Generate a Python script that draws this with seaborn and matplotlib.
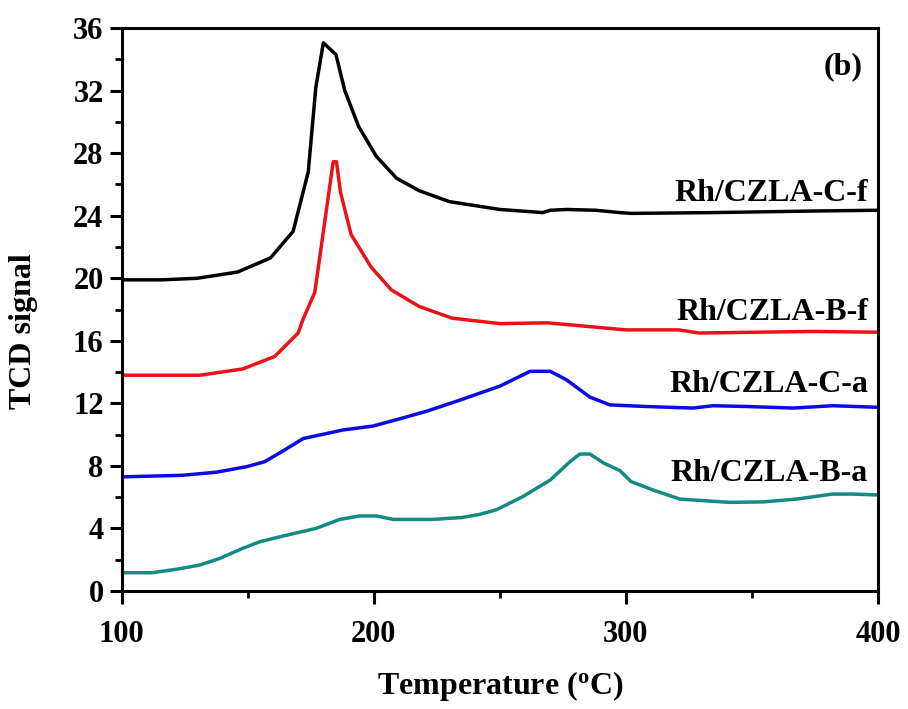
import numpy as np
import pandas as pd
import matplotlib
matplotlib.use("Agg")
import matplotlib.pyplot as plt
from matplotlib.ticker import MultipleLocator
import seaborn as sns

# ---- data ----
cf_x = [100, 116, 130, 146, 159, 168, 174, 177, 180, 185, 188.5, 194, 201, 209, 218, 230, 250,
        267, 270, 276.5, 288, 297.6, 302, 334.5, 374, 400]
cf_y = [19.9, 19.9, 20.0, 20.4, 21.3, 23.0, 26.8, 32.2, 35.06, 34.3, 32.0, 29.7, 27.8, 26.4, 25.6, 24.9, 24.4,
        24.2, 24.35, 24.4, 24.35, 24.2, 24.15, 24.2, 24.3, 24.35]

bf_x = [100, 131, 148, 160.7, 170, 172, 176.6, 183.9, 185.2, 186.8, 191, 199, 207, 218, 231, 250,
        269, 300, 321, 329, 374, 400]
bf_y = [13.8, 13.8, 14.2, 15.0, 16.5, 17.4, 19.1, 27.45, 27.45, 25.5, 22.8, 20.7, 19.25, 18.2, 17.45, 17.1,
        17.15, 16.7, 16.7, 16.5, 16.6, 16.55]

ca_x = [100, 124, 137.6, 149.5, 156.7, 163.4, 172, 187.8, 199.7, 210, 221, 234, 250, 262, 270, 276.5,
        285.7, 293.7, 308, 326.6, 334.5, 348, 366.4, 382, 400]
ca_y = [7.3, 7.4, 7.6, 7.95, 8.27, 8.9, 9.75, 10.3, 10.55, 11.0, 11.5, 12.2, 13.1, 14.05, 14.05, 13.5,
        12.4, 11.9, 11.8, 11.7, 11.85, 11.8, 11.7, 11.85, 11.75]

ba_x = [100, 112, 121.7, 131, 139, 148, 154.8, 162.7, 177, 186.5, 194.4, 201, 207.7, 223.5, 234.8, 242,
        248.7, 259, 270, 277.8, 281.7, 285.7, 291, 297.6, 302, 310.8, 321.4, 341, 354.5, 367.7, 382, 390, 400]
ba_y = [1.17, 1.17, 1.39, 1.66, 2.09, 2.73, 3.15, 3.47, 4.0, 4.58, 4.8, 4.8, 4.58, 4.58, 4.7, 4.9,
        5.2, 6.03, 7.1, 8.27, 8.76, 8.76, 8.2, 7.7, 7.0, 6.46, 5.88, 5.67, 5.7, 5.88, 6.2, 6.2, 6.14]

names = ["Rh/CZLA-C-f", "Rh/CZLA-B-f", "Rh/CZLA-C-a", "Rh/CZLA-B-a"]
colors = ["#000000", "#ea1216", "#0b0be6", "#148a84"]
label_y = [25.4, 17.8, 13.2, 7.5]
xticks = [100, 200, 300, 400]
yticks = list(range(0, 37, 4))

frames = []
for n, xs, ys in zip(names, [cf_x, bf_x, ca_x, ba_x], [cf_y, bf_y, ca_y, ba_y]):
    frames.append(pd.DataFrame({"T": xs, "signal": ys, "sample": n}))
df = pd.concat(frames, ignore_index=True)

sns.set_style("white")
plt.rcParams["font.family"] = ["Liberation Serif", "DejaVu Serif"]
plt.rcParams["font.weight"] = "bold"
plt.rcParams["text.color"] = "black"
plt.rcParams["axes.labelcolor"] = "black"
plt.rcParams["xtick.color"] = "black"
plt.rcParams["ytick.color"] = "black"
plt.rcParams["mathtext.fontset"] = "custom"
plt.rcParams["mathtext.rm"] = "Liberation Serif:bold"

fig = plt.figure(figsize=(9.08, 7.09), dpi=100)
ax = fig.add_axes([0.134, 0.1664, 0.833, 0.794])

sns.lineplot(data=df, x="T", y="signal", hue="sample", palette=dict(zip(names, colors)),
             estimator=None, sort=False, linewidth=2.5, legend=False, ax=ax)

ax.set_xlim(100, 400)
ax.set_ylim(0, 36)
ax.set_xticks(xticks)
ax.set_yticks(yticks)
ax.xaxis.set_minor_locator(MultipleLocator(50))
ax.yaxis.set_minor_locator(MultipleLocator(2))
ax.tick_params(axis="both", which="major", direction="out", length=9, width=2.2,
               labelsize=22, bottom=True, left=True, top=False, right=False, pad=4,
               colors="black")
ax.tick_params(axis="both", which="minor", direction="out", length=5, width=2.0,
               bottom=True, left=True, top=False, right=False, colors="black")
ax.tick_params(axis="x", which="major", pad=12)
for lab in ax.get_xticklabels() + ax.get_yticklabels():
    lab.set_fontweight("bold")
for s in ax.spines.values():
    s.set_linewidth(2.2)
    s.set_color("black")

ax.set_xlabel("Temperature ($\\mathregular{^o}$C)", fontsize=23, fontweight="bold", labelpad=14)
ax.set_ylabel("TCD signal", fontsize=23, fontweight="bold")
ax.xaxis.set_label_coords(0.49, -0.1, transform=None) if False else None
ax.yaxis.set_label_coords(-0.111, 0.462)

for n, c, ly in zip(names, colors, label_y):
    ax.text(396, ly, n, ha="right", va="center", fontsize=23, fontweight="bold", color="black")
ax.text(394, 33.5, "(b)", ha="right", va="center", fontsize=23, fontweight="bold", color="black")

fig.savefig("out.png", dpi=100)
